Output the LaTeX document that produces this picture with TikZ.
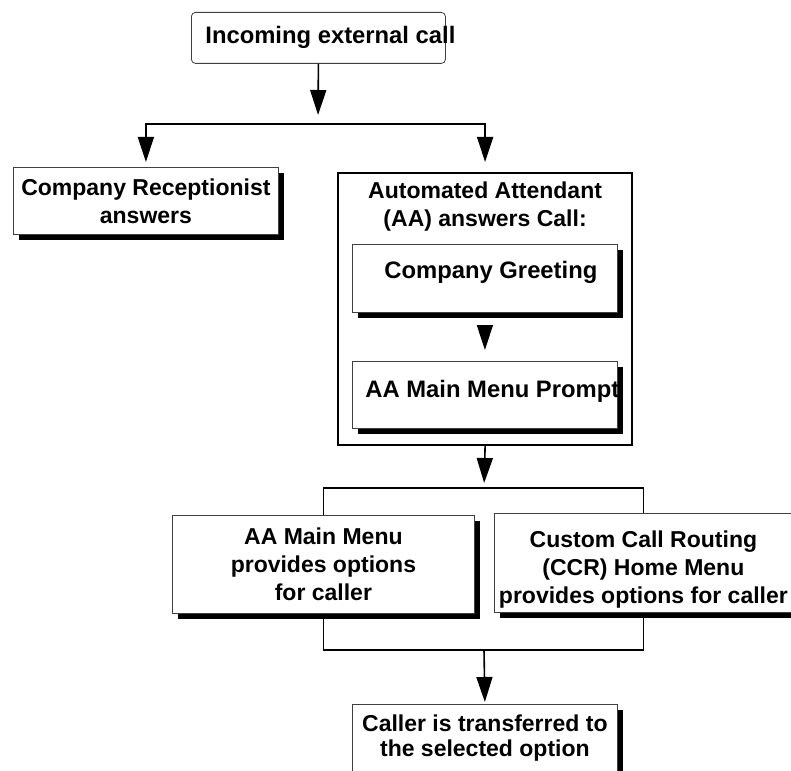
\documentclass[tikz,border=0pt]{standalone}
\usepackage{fontspec}
\setmainfont{Liberation Sans}
\usetikzlibrary{arrows.meta,shadows}

\tikzset{
  box/.style={draw=black!75, line width=0.8pt, fill=white, rectangle,
    inner sep=0pt, align=center, anchor=north west,
    drop shadow={shadow xshift=6pt, shadow yshift=-6pt, fill=black, opacity=1}},
  startbox/.style={draw=black!75, line width=0.8pt, fill=white, rounded corners=4pt,
    inner sep=0pt, anchor=north west},
  groupbox/.style={draw, line width=2.2pt, inner sep=0pt, align=center, anchor=north west},
  wide/.style={font=\bfseries\fontsize{23.8}{28}\selectfont},
  line/.style={line width=1.6pt},
  arr/.style={line, -{Triangle[length=25pt,width=16pt]}}
}

\begin{document}
\begin{tikzpicture}[
    x=1pt, y=-1pt,
    font=\bfseries\fontsize{23}{28}\selectfont
  ]
    \useasboundingbox (0,0) rectangle (791,770);
    \clip (0,0) rectangle (791,770);

    \node[startbox, wide, minimum height=51pt] (in) at (191,12) {\makebox[254pt][l]{\hspace*{14pt}Incoming external call}};
    \node[box, minimum width=265pt, minimum height=67pt] (rec) at (13,167) {Company Receptionist\\answers};
    \node[groupbox, minimum width=294pt, minimum height=272pt, text height=53pt, text depth=219pt] (aa) at (337,172) {Automated Attendant\\(AA) answers Call:};
    \node[box, wide, minimum width=265pt, minimum height=68pt, text height=34pt, text depth=34pt] (greet) at (352,244) {\hspace*{12pt}Company Greeting};
    \node[box, wide, minimum height=67pt, text height=36pt, text depth=31pt] (prompt) at (352,361) {\makebox[265pt][l]{\hspace*{13pt}AA Main Menu Prompt}};
    \node[box, minimum width=302pt, minimum height=98pt] (aamenu) at (172,515) {AA Main Menu\\provides options\\for caller};
    \node[box, minimum width=298pt, minimum height=99pt, text height=90pt, text depth=9pt] (ccr) at (494,513) {Custom Call Routing\\(CCR) Home Menu\\provides options for caller};
    \node[box, minimum width=265pt, minimum height=100pt, text height=52pt, text depth=48pt, font=\bfseries\fontsize{23}{25}\selectfont] (dest) at (352,704) {Caller is transferred to\\the selected option};

    \coordinate (split1) at (318,124);
    \coordinate (split2) at (484,488);
    \coordinate (join) at (484,650);

    % incoming call splits
    \draw[arr, shorten >=9pt] (in.south) -- (split1);
    \draw[arr, shorten >=5pt] (split1) -| (rec.north);
    \draw[arr, shorten >=10pt] (split1) -| (aa.north);
    \draw[arr, shorten <=13pt, shorten >=11pt] (greet.south) -- (prompt.north);

    % menus
    \draw[arr, shorten >=5pt] (aa.south) -- (split2);
    \draw[line] (split2) -| (aamenu.north);
    \draw[line] (split2) -| (ccr.north);
    \draw[line] (aamenu.south) |- (ccr.south |- join) -- (ccr.south);
    \draw[arr, shorten >=2pt] (join) -- (dest.north);
  \end{tikzpicture}
\end{document}
